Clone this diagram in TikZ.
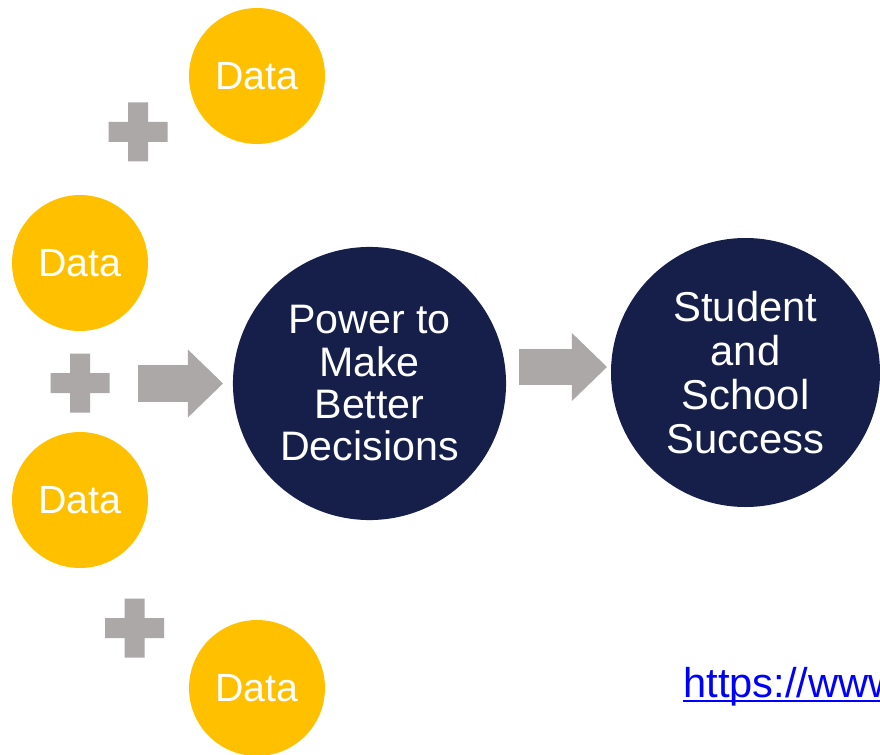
\documentclass[tikz,border=0pt]{standalone}
\usepackage{fontspec}
\setmainfont{Liberation Sans}
\usetikzlibrary{arrows.meta}

\definecolor{datayellow}{HTML}{FFC000}
\definecolor{navy}{HTML}{161F49}
\definecolor{plusgray}{HTML}{ABA8A7}
\definecolor{linkblue}{HTML}{0000FF}

\newcommand{\linkul}[1]{\setbox0\hbox{#1}\rlap{\rule[-0.12em]{\wd0}{0.05em}}\box0}

\begin{document}
\begin{tikzpicture}[x=0.025cm, y=-0.025cm]
        \tikzstyle{data}=[circle,fill=datayellow,text=white,minimum size=96.7pt,inner sep=0pt,font=\fontsize{28}{31}\selectfont]
        \tikzstyle{goal}=[circle,fill=navy,text=white,inner sep=0pt,align=center]
        \tikzstyle{bigarrow}=[draw=plusgray,line width=26pt,-{Triangle[length=25pt,width=48.4pt,line width=0pt]}]

        \useasboundingbox (0,0) rectangle (880,755);

        \node[data] (D_1) at (257,76)  {Data};
        \node[data] (D_2) at (80,263)  {Data};
        \node[data] (D_3) at (80,500)  {Data};
        \node[data] (D_4) at (257,688)  {Data};

        \node[goal,minimum size=194.2pt,font=\fontsize{29.3}{30.1}\selectfont] (P) at (369.5,383.5) {Power to\\Make\\Better\\Decisions};
        \node[goal,minimum size=191.3pt,font=\fontsize{29.7}{31.1}\selectfont] (S) at (745.5,372.5) {Student\\and\\School\\Success};

        \foreach \x/\y in {138/132, 80/383, 134.5/628}
            \fill[plusgray] (\x-29.5,\y-10) rectangle (\x+29.5,\y+10) (\x-10,\y-29.5) rectangle (\x+10,\y+29.5);

        \coordinate (A_1) at (138,383.5);
        \coordinate (A_1t) at (223,383.5);
        \coordinate (A_2) at (519,367);
        \coordinate (A_2t) at (607,367);
        \draw[bigarrow] (A_1) -- (A_1t);
        \draw[bigarrow] (A_2) -- (A_2t);

        \node[anchor=base west,inner sep=0pt,text=linkblue,font=\fontsize{29.6}{32}\selectfont] (L) at (683,697) {\linkul{https://www}};
    \end{tikzpicture}
\end{document}
